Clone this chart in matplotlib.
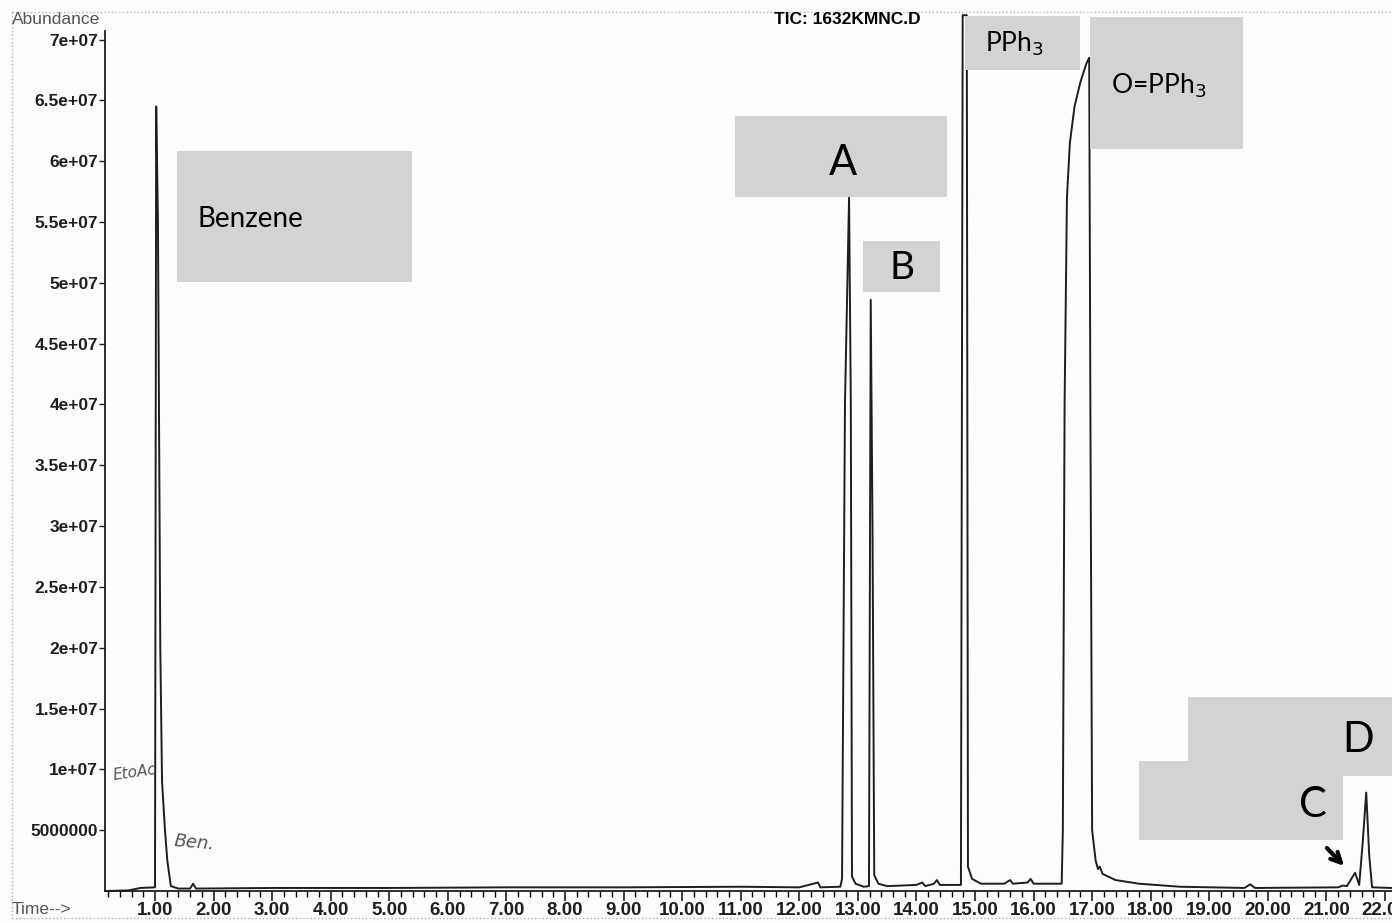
import matplotlib
matplotlib.use("Agg")
import matplotlib.pyplot as plt
from matplotlib.patches import Rectangle
from matplotlib.lines import Line2D
from matplotlib.ticker import MultipleLocator, FixedLocator

# total ion chromatogram of run 1632KMNC.D
time_min = [0.15, 0.55, 0.75, 1.00, 1.02, 1.05, 1.09, 1.12, 1.17, 1.21, 1.27, 1.40,
            1.60, 1.65, 1.70, 3.00, 5.00, 7.00, 9.00, 11.00, 12.00, 12.32, 12.36,
            12.70, 12.73, 12.78, 12.85, 12.88, 12.90, 12.96, 13.10, 13.19, 13.22,
            13.25, 13.28, 13.35, 13.50, 14.00, 14.10, 14.15, 14.30, 14.35, 14.40,
            14.60, 14.76, 14.79, 14.86, 14.88, 14.95, 15.10, 15.50, 15.60, 15.65,
            15.90, 15.95, 16.00, 16.48, 16.50, 16.53, 16.57, 16.62, 16.70, 16.80,
            16.90, 16.95, 16.97, 17.00, 17.06, 17.10, 17.13, 17.18, 17.40, 17.80,
            18.50, 19.60, 19.70, 19.78, 21.20, 21.28, 21.35, 21.49, 21.56, 21.62,
            21.68, 21.73, 21.78, 22.12]
abundance_e6 = [0.00, 0.05, 0.25, 0.30, 64.5, 55.0, 20.0, 9.0, 5.0, 2.5, 0.4, 0.2,
                0.2, 0.6, 0.2, 0.25, 0.25, 0.3, 0.3, 0.35, 0.3, 0.7, 0.3,
                0.35, 1.0, 40.0, 57.0, 40.0, 1.2, 0.6, 0.35, 0.4, 48.6,
                30.0, 1.3, 0.6, 0.4, 0.5, 0.7, 0.4, 0.6, 0.9, 0.5,
                0.5, 0.5, 72.0, 72.0, 2.0, 1.0, 0.6, 0.6, 0.9, 0.6,
                0.7, 1.0, 0.6, 0.6, 5.0, 40.0, 57.0, 61.5, 64.5, 66.5,
                68.0, 68.5, 40.0, 5.0, 2.5, 1.8, 2.0, 1.4, 0.9, 0.6,
                0.35, 0.25, 0.55, 0.25, 0.3, 0.45, 0.4, 1.5, 0.5, 4.0,
                8.1, 3.0, 0.3, 0.25]
abundance = [v * 1e6 for v in abundance_e6]

y_ticks = [5e6 * k for k in range(1, 15)]
y_tick_labels = ["5000000", "1e+07", "1.5e+07", "2e+07", "2.5e+07", "3e+07", "3.5e+07",
                 "4e+07", "4.5e+07", "5e+07", "5.5e+07", "6e+07", "6.5e+07", "7e+07"]
x_ticks = list(range(1, 23))
x_tick_labels = ["%.2f" % t for t in x_ticks]

# peak labels: text, box (left, top, right, bottom in px), text anchor px, size
peak_labels = [
    ("Benzene", (177, 151, 412, 282), (197, 219), 20, "left"),
    ("A", (735, 116, 947, 197), (843, 163), 30, "center"),
    ("B", (863, 241, 940, 292), (902, 268), 28, "center"),
    ("PPh$_3$", (965, 16, 1080, 70), (985, 44), 19, "left"),
    ("O=PPh$_3$", (1090, 17, 1243, 149), (1111, 86), 19, "left"),
    ("D", (1188, 697, 1392, 776), (1358, 740), 30, "center"),
    ("C", (1139, 761, 1343, 840), (1313, 805), 30, "center"),
]

W, H = 1392, 923
fig = plt.figure(figsize=(W / 100, H / 100), dpi=100)
fig.patch.set_facecolor("#fefdfc")

def fx(px):
    return px / W

def fy(py):
    return 1 - py / H

ax = fig.add_axes([fx(105), fy(891), fx(1392) - fx(105), fy(31) - fy(891)])
ax.set_facecolor("none")
ax.plot(time_min, abundance, color="#1e1e1e", lw=1.4, clip_on=False, zorder=3)

ax.set_xlim(0.146, 22.12)
ax.set_ylim(0, 70.7e6)
for s in ["top", "right"]:
    ax.spines[s].set_visible(False)
for s in ["left", "bottom"]:
    ax.spines[s].set_linewidth(1.3)
    ax.spines[s].set_color("#1e1e1e")

ax.yaxis.set_major_locator(FixedLocator(y_ticks))
ax.set_yticklabels(y_tick_labels, fontsize=12.5, fontweight="bold", family="Liberation Sans")
ax.xaxis.set_major_locator(FixedLocator(x_ticks))
ax.xaxis.set_minor_locator(MultipleLocator(0.2))
ax.set_xticklabels(x_tick_labels, fontsize=13.5, fontweight="bold", family="Liberation Sans")
ax.tick_params(axis="y", length=4, width=1.0, pad=1, colors="#1e1e1e")
ax.tick_params(axis="x", which="major", length=7, width=1.2, pad=1, colors="#1e1e1e")
ax.tick_params(axis="x", which="minor", length=4, width=1.0)

# plot header and axis captions
fig.text(fx(847), fy(20), "TIC: 1632KMNC.D", ha="center", va="center",
         fontsize=12.5, fontweight="bold", family="Liberation Sans")
fig.text(fx(12), fy(19), "Abundance", ha="left", va="center", fontsize=12.5,
         color="#555555", family="Liberation Sans")
fig.text(fx(12), fy(910), "Time-->", ha="left", va="center", fontsize=12.5,
         color="#555555", family="Liberation Sans")

# dotted page frame
frame = dict(color="#b0b0b0", lw=1.0, ls=":", transform=fig.transFigure)
fig.add_artist(Line2D([fx(12), fx(12)], [fy(12), fy(918)], **frame))
fig.add_artist(Line2D([fx(12), 1], [fy(12), fy(12)], **frame))
fig.add_artist(Line2D([fx(12), 1], [fy(918), fy(918)], **frame))

# handwritten notes on the trace
fig.text(fx(112), fy(772), "EtoAc", fontsize=11, style="italic", color="#555555",
         family="DejaVu Sans", ha="left", va="center", rotation=8)
fig.text(fx(173), fy(843), "Ben.", fontsize=13, style="italic", color="#555555",
         family="DejaVu Sans", ha="left", va="center", rotation=-5)

# grey label boxes
for text, (x0, y0, x1, y1), (tx, ty), size, align in peak_labels:
    fig.add_artist(Rectangle((fx(x0), fy(y1)), fx(x1) - fx(x0), fy(y0) - fy(y1),
                             transform=fig.transFigure, facecolor="#d3d3d3",
                             edgecolor="none", zorder=5))
    fig.text(fx(tx), fy(ty), text, ha=align, va="center", fontsize=size,
             family="Lato", color="black", zorder=6)

ax.annotate("", xy=(fx(1346), fy(868)), xytext=(fx(1325), fy(846)),
            xycoords="figure fraction", textcoords="figure fraction",
            arrowprops=dict(arrowstyle="->", lw=3, color="black",
                            mutation_scale=18), zorder=7)

fig.savefig("out.png", dpi=100, facecolor=fig.get_facecolor())
